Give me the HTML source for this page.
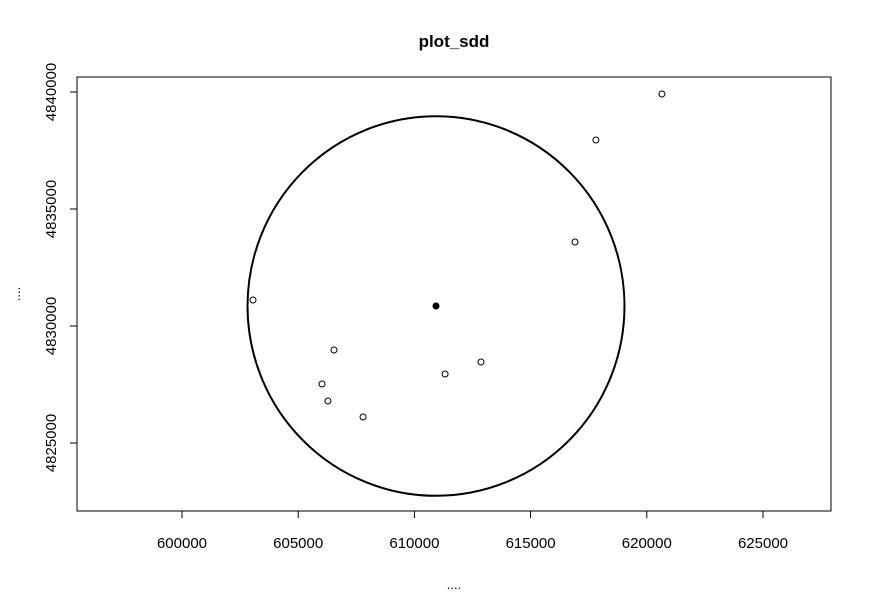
<!DOCTYPE html>
<html><head><meta charset="utf-8"><style>
body{margin:0;background:#fff}
svg{display:block;font-family:"Liberation Sans",Arial,sans-serif}
</style></head><body>
<svg id="chart" width="872" height="610" viewBox="0 0 872 610">
<rect width="872" height="610" fill="#fff"/>
<text x="454" y="47" text-anchor="middle" font-size="17" font-weight="bold">plot_sdd</text>
<rect x="77" y="77" width="754" height="434" fill="none" stroke="#000" stroke-width="1"/>
<text x="454" y="589" text-anchor="middle" font-size="13">....</text>
<text x="20" y="294" text-anchor="middle" font-size="13" transform="rotate(-90 20 294)">....</text>
<g id="xaxis"></g>
<g id="yaxis"></g>
<g id="marks"></g>
</svg>
<script>
const xTicks=[600000,605000,610000,615000,620000,625000];
const yTicks=[4825000,4830000,4835000,4840000];
const ptX=[620650,617810,616910,603055,606540,606025,606280,607790,611320,612865];
const ptY=[4839915,4837950,4833590,4831110,4828975,4827520,4826795,4826110,4827950,4828460];
const centerX=[610930];
const centerY=[4830855];
const sddRadius=[8110];

const sx=v=>182+(v-600000)*(116.2/5000);
const sy=v=>92+(4840000-v)*(117/5000);
const NS="http://www.w3.org/2000/svg";
function mk(tag,attrs,parent){const e=document.createElementNS(NS,tag);for(const k in attrs)e.setAttribute(k,attrs[k]);parent.appendChild(e);return e;}
const xa=document.getElementById('xaxis'),ya=document.getElementById('yaxis'),mg=document.getElementById('marks');
mk('line',{x1:sx(xTicks[0]),x2:sx(xTicks[xTicks.length-1]),y1:511,y2:511,stroke:'#000'},xa);
xTicks.forEach(t=>{
  const l=mk('line',{x1:sx(t),x2:sx(t),y1:511,y2:518,stroke:'#000'},xa);
  
  
  const tx=mk('text',{x:sx(t),y:548,'text-anchor':'middle','font-size':'15'},xa);
  tx.textContent=t;
  
  
});
mk('line',{x1:77,x2:77,y1:sy(yTicks[0]),y2:sy(yTicks[yTicks.length-1]),stroke:'#000'},ya);
yTicks.forEach(t=>{
  const y=sy(t);
  const l=mk('line',{x1:70,x2:77,y1:y,y2:y,stroke:'#000'},ya);
  
  
  const tx=mk('text',{x:56,y:y,'text-anchor':'middle','font-size':'15',transform:`rotate(-90 56 ${y})`},ya);
  tx.textContent=t;
  
  
});
const cx=sx(centerX[0]),cy=sy(centerY[0]);
const ell=mk('ellipse',{cx:cx,cy:cy,rx:sx(centerX[0]+sddRadius[0])-cx,ry:cy-sy(centerY[0]+sddRadius[0]),fill:'none',stroke:'#000','stroke-width':'2'},mg);


ptX.forEach((v,i)=>{
  const c=mk('circle',{cx:sx(v),cy:sy(ptY[i]),r:3,fill:'none',stroke:'#000','stroke-width':'1'},mg);
  
  
});
const cc=mk('circle',{cx:cx,cy:cy,r:3,fill:'#000',stroke:'#000'},mg);


</script>
</body></html>
